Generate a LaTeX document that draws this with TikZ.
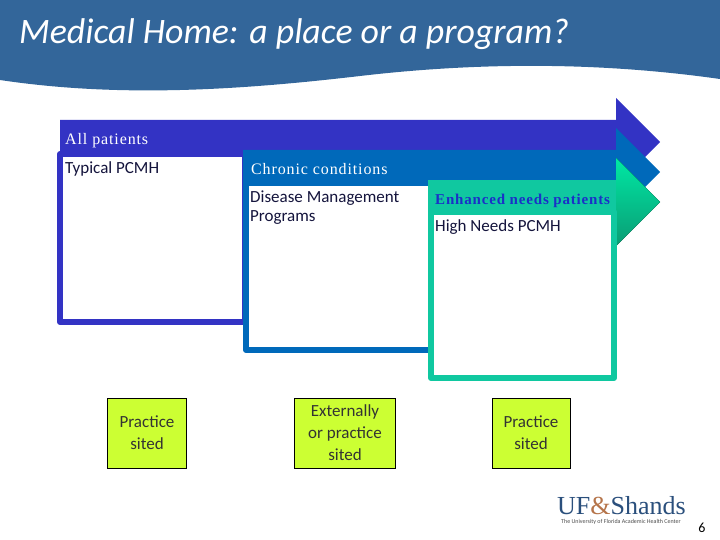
\documentclass[tikz,border=0pt]{standalone}
\usepackage{fontspec}
\setmainfont{Carlito}
\newfontfamily\bandfont[LetterSpace=5.5]{Liberation Serif}
\newfontfamily\logofont{Liberation Serif}
\definecolor{headerblue}{HTML}{33669A}
\definecolor{allblue}{HTML}{3333C4}
\definecolor{chronicblue}{HTML}{0069BA}
\definecolor{needsgreen}{HTML}{10C8A0}
\definecolor{needstop}{HTML}{00E8A4}
\definecolor{needsbottom}{HTML}{0A9C74}
\definecolor{enhancedblue}{HTML}{1A30C8}
\definecolor{sitedlime}{HTML}{CCFF33}
\definecolor{inktext}{HTML}{14143C}
\definecolor{logonavy}{HTML}{2A4F7C}
\definecolor{logobrown}{HTML}{B5744A}
\begin{document}
\begin{tikzpicture}[
  x=1pt,
  y=-1pt,
  frame/.style={fill=white, line width=6pt, line join=round},
  bandlabel/.style={anchor=west, inner sep=0pt, text=white, font=\bandfont\fontsize{16}{18}\selectfont},
  boxlabel/.style={anchor=north west, inner sep=0pt, align=left, text=inktext, font=\fontsize{17}{19}\selectfont},
  sited/.style={draw=black, fill=sitedlime, line width=0.7pt, minimum height=70pt, inner sep=0pt, align=center, text=black!80, font=\fontsize{17}{22}\selectfont}
]
  \useasboundingbox (0,0) rectangle (720,540);

  % Cabecera
  \fill[headerblue] (0,0) -- (720,0) -- (720,79)
    .. controls (600,62) and (480,62) .. (360,76)
    .. controls (240,90) and (120,98) .. (0,80) -- cycle;
  \node[anchor=west, inner sep=0pt, text=white, font=\itshape\fontsize{35.8}{38}\selectfont] (title) at (19,34) {Medical Home: a place or a program?};

  % Flecha y marco de todos los pacientes
  \fill[allblue] (60,120) -- (616,120) -- (616,98) -- (660,142) -- (616,186) -- (616,164) -- (60,164) -- cycle;
  \draw[frame, draw=allblue] (60,154) rectangle (245,322);
  \node[bandlabel] (allpatients) at (65,141) {All patients};
  \node[boxlabel] (typical) at (65,161) {Typical PCMH};

  % Flecha y marco de condiciones crónicas
  \fill[chronicblue] (243,150) -- (616,150) -- (616,128) -- (660,172) -- (616,216) -- (616,194) -- (243,194) -- cycle;
  \draw[frame, draw=chronicblue] (246,183) rectangle (431,350);
  \node[bandlabel] (chronic) at (251,169) {Chronic conditions};
  \node[boxlabel] (disease) at (250,191) {Disease Management\\Programs};

  % Flecha y marco de necesidades
  \fill[top color=needstop, bottom color=needsbottom] (616,158) -- (660,202) -- (616,246) -- cycle;
  \fill[needsgreen] (428,180) rectangle (616,240);
  \draw[frame, draw=needsgreen] (431,212) rectangle (614,378);
  \node[bandlabel, text=enhancedblue, font=\bandfont\bfseries\fontsize{15}{17}\selectfont] (enhanced) at (435,201) {Enhanced needs patients};
  \node[boxlabel] (highneeds) at (435,219) {High Needs PCMH};

  % Cajas inferiores
  \node[sited, minimum width=79pt] (sitedone) at (147,433) {Practice\\sited};
  \node[sited, minimum width=101pt] (sitedtwo) at (345,433) {Externally\\or practice\\sited};
  \node[sited, minimum width=78pt] (sitedthree) at (531,433) {Practice\\sited};

  % Logo y número
  \node[anchor=west, inner sep=0pt, font=\logofont\fontsize{26}{28}\selectfont, text=logonavy] (logo) at (557,506) {UF{\color{logobrown}\&}Shands};
  \node[anchor=west, inner sep=0pt, font=\fontsize{6}{7}\selectfont, text=black!70] (tagline) at (561,522) {The University of Florida Academic Health Center};
  \node[inner sep=0pt, font=\fontsize{14}{16}\selectfont, text=black] (pagenum) at (702,528) {6};
\end{tikzpicture}
\end{document}
